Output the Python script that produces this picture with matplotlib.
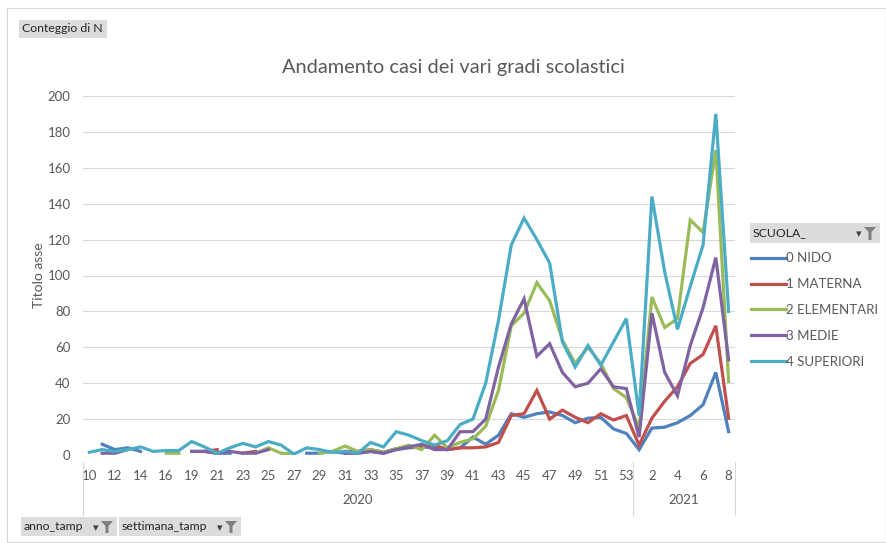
import matplotlib
matplotlib.use("Agg")
import matplotlib.pyplot as plt
from matplotlib.patches import Rectangle, Polygon
import numpy as np

plt.rcParams['font.family'] = ['Lato', 'DejaVu Sans']

nan = np.nan
W, H = 887, 543

weeks = [10, 11, 12, 13, 14, 15, 16, 18] + list(range(19, 54)) + list(range(1, 9))
years = ["2020"] * 43 + ["2021"] * 8

nido = [nan, 6, 3, 4, 2, nan, nan, nan, 2, 2, 1, 1, nan, nan, nan, nan, nan, 1, 1, 2,
        1, 1, 2, 1, 3, 4, 4.5, 4, 3, 4, 10, 6, 11, 23, 21, 23, 24, 22, 18, 20.5,
        21, 14.5, 12, 3, 15, 15.5, 18, 22, 28, 46, 13]
materna = [nan, nan, nan, nan, nan, nan, nan, nan, nan, 2, 3, nan, 1, 2, nan, nan, nan, nan, nan, nan,
           2, 2, 3, 1.5, 3.5, 4.5, 4.5, 5.5, 3, 4, 4, 4.5, 7, 22, 23, 36, 20, 25, 21, 18,
           23, 19.5, 22, 5.5, 20.5, 30, 38, 51, 56, 72, 20.5]
elementari = [nan, nan, nan, nan, nan, nan, 1, 1, nan, nan, nan, nan, nan, 1, 4, 1, 0.5, nan, 1, 2,
              5, 2, 3, 1.5, 3.5, 5.5, 3, 11, 4, 7, 9, 16, 36, 72, 79, 96, 86, 64, 51, 60,
              51, 37, 32, 15, 88, 71, 76, 131, 124, 170, 41]
medie = [nan, 1, 1, 3, nan, nan, 1, nan, 2, 2, 1, 2, 1, 1, 3, nan, nan, nan, nan, nan,
         1, 1, 2, 1, 3, 4.5, 6, 3, 3, 13, 13, 20, 49, 73, 87, 55, 62, 46, 38, 40,
         48, 38, 37, 10, 79, 46, 33, 61, 82, 110, 53]
superiori = [1.5, 3, 2, 3, 4.5, 2, 2.5, 2.5, 7.5, 4.5, 1, 4, 6.5, 4.5, 7.5, 5.5, 0.5, 4, 3, 1.5,
             2, 1, 7, 4.5, 13, 11, 8, 5.5, 8, 17, 20, 40, 75, 117, 132, 120, 107, 63, 49, 61,
             50, 63, 76, 22, 144, 102, 70, 94, 117, 190, 80]

labels = ["0 NIDO", "1 MATERNA", "2 ELEMENTARI", "3 MEDIE", "4 SUPERIORI"]
colors = ["#4F81BD", "#C0504D", "#9BBB59", "#8064A2", "#4BACC6"]
series = [nido, materna, elementari, medie, superiori]

txt = "#595959"
grid = "#D9D9D9"


def px(x, y):
    return x / W, 1 - y / H


fig = plt.figure(figsize=(W / 100, H / 100), dpi=100)
ax = fig.add_axes([83 / W, 1 - 455 / H, (735 - 83) / W, (455 - 96) / H])

x = np.arange(len(weeks))
for vals, lab, c in zip(series, labels, colors):
    ax.plot(x, vals, color=c, lw=2.3, label=lab, solid_joinstyle="miter")

ax.set_xlim(-0.5, len(weeks) - 0.5)
ax.set_ylim(0, 200)
ax.set_yticks(range(0, 201, 20))
ax.set_xticks(x[::2])
ax.set_xticklabels([str(w) for w in weeks[::2]])
ax.tick_params(length=0, colors=txt, labelsize=9.5)
ax.tick_params(axis="x", pad=11)
ax.tick_params(axis="y", pad=9)
ax.grid(axis="y", color=grid, lw=0.8)
ax.set_axisbelow(True)
for s in ax.spines.values():
    s.set_visible(False)
ax.set_ylabel("Titolo asse", color=txt, fontsize=10)
ax.yaxis.set_label_coords((45 - 83) / 652, 0.5)
fig.text(*px(453, 68), "Andamento casi dei vari gradi scolastici", color=txt,
         fontsize=14.4, ha="center", va="center")

# year level of the category axis
for yr in ["2020", "2021"]:
    idx = [i for i, y in enumerate(years) if y == yr]
    ax.text((idx[0] + idx[-1]) / 2, -0.125, yr, transform=ax.get_xaxis_transform(),
            ha="center", va="center", color=txt, fontsize=9.5)
for b in [-0.5, years.index("2021") - 0.5, len(weeks) - 0.5]:
    ax.plot([b, b], [-0.02, -0.168], transform=ax.get_xaxis_transform(),
            color=grid, lw=0.8, clip_on=False)

# legend
leg = fig.legend(loc="upper left", bbox_to_anchor=px(746, 247), frameon=False,
                 fontsize=9.5, handlelength=2.6, handletextpad=0.05, labelspacing=1.05,
                 borderaxespad=0)
for t in leg.get_texts():
    t.set_color(txt)


def button(x0, y0, x1, y1, label, funnel=True):
    fx, fy = px(x0, y1)
    fig.add_artist(Rectangle((fx, fy), (x1 - x0) / W, (y1 - y0) / H,
                             transform=fig.transFigure, facecolor="#DCDCDC", edgecolor="none"))
    fig.text(*px(x0 + 3, (y0 + y1) / 2), label, fontsize=8.8, color="#262626",
             ha="left", va="center")
    if funnel:
        fig.text(*px(x1 - 21, (y0 + y1) / 2 + 1), "▾", fontsize=8, color="#404040",
                 ha="center", va="center")
        cx = x1 - 10
        pts = [px(cx - 6, y0 + 4), px(cx + 6, y0 + 4), px(cx + 1.5, y0 + 9),
               px(cx + 1.5, y1 - 3), px(cx - 1.5, y1 - 3), px(cx - 1.5, y0 + 9)]
        fig.add_artist(Polygon(pts, closed=True, transform=fig.transFigure,
                               facecolor="#7F7F7F", edgecolor="none"))


button(19, 20, 107, 38, "Conteggio di N", funnel=False)
button(21, 517, 117, 536, "anno_tamp")
button(119, 517, 241, 536, "settimana_tamp")
button(750, 223, 880, 243, "SCUOLA_")

# chart border
fig.add_artist(Rectangle(px(7, 542), 879 / W, 534 / H, transform=fig.transFigure,
                         facecolor="none", edgecolor="#D9D9D9", lw=0.8))

fig.savefig("out.png", dpi=100)
